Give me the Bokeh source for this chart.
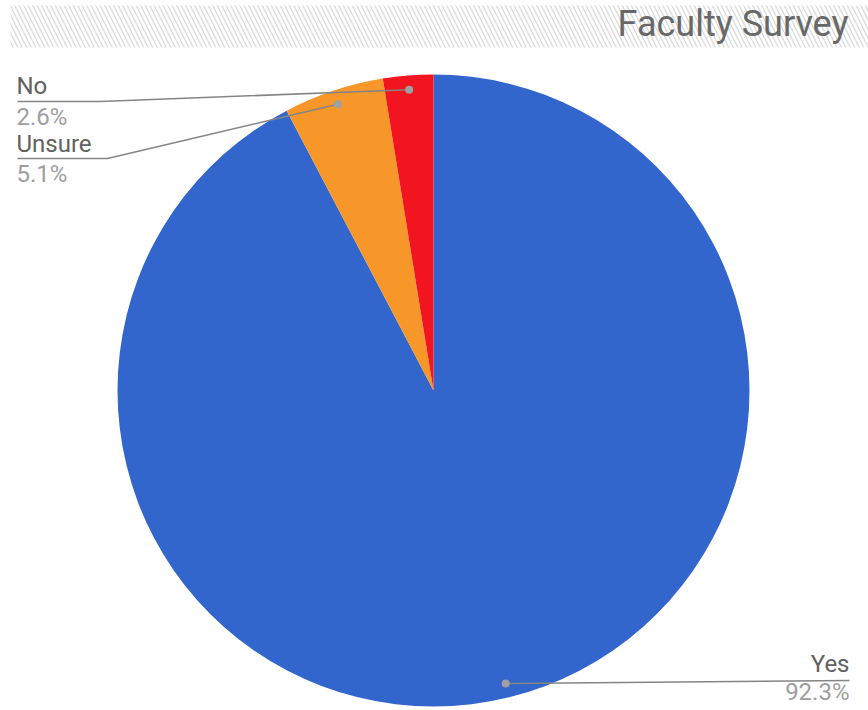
import math
from bokeh.plotting import figure
from bokeh.models import Range1d
from bokeh.core.properties import value
from bokeh.embed import file_html
from bokeh.resources import INLINE

# ---- data ----
title_text = "Faculty Survey"
labels = ["Yes", "Unsure", "No"]
counts = [36, 2, 1]
colors = ["#3366CC", "#F7972A", "#F2141E"]

# ---- layout (screen coords -> data: x = sx, y = 710 - sy) ----
W, H = 868, 710
def Y(sy):
    return H - sy

BASE_FIX = 0.36  # empirical baseline correction (fraction of font size)
def TY(sy, fs):
    return Y(sy) + BASE_FIX * fs

p = figure(width=W, height=H, output_backend="svg", toolbar_location=None,
           x_range=Range1d(0, W), y_range=Range1d(0, H),
           min_border=0, outline_line_color=None, background_fill_color="white")
p.axis.visible = False
p.grid.visible = False

# hatched title band
p.quad(left=10, right=W, bottom=Y(47), top=Y(5), fill_color="white",
       line_color=None, hatch_pattern="\\", hatch_color="#dcdcdc",
       hatch_scale=9, hatch_weight=1.4)

TFS = 36
p.text(x=[848], y=[TY(36, TFS)], text=[title_text], text_align="right",
       text_baseline="alphabetic", text_font=value("Roboto"),
       text_font_size=f"{TFS}px", text_color="#686868")

# pie
cx, cy, R = 433, Y(390), 316
total = sum(counts)
starts, ends, mids, pcts = [], [], [], []
cum = 0
for c in counts:
    a0 = math.pi / 2 - 2 * math.pi * cum / total
    cum += c
    a1 = math.pi / 2 - 2 * math.pi * cum / total
    starts.append(a0)
    ends.append(a1)
    mids.append((a0 + a1) / 2)
    pcts.append(f"{100 * c / total:.1f}%")

p.wedge(x=[cx] * len(counts), y=[cy] * len(counts), radius=R,
        start_angle=starts, end_angle=ends, direction="clock",
        fill_color=colors, line_color=None)

dot_r = 0.955 * R
dots_x = [cx + dot_r * math.cos(m) for m in mids]
dots_y = [cy + dot_r * math.sin(m) for m in mids]

# label layout: (text x, name baseline, line y, pct baseline, elbow x, align)
layout = {
    "Yes": (849, 672, 680, 700, None, "right"),
    "Unsure": (16, 152, 158, 182, 107, "left"),
    "No": (16, 94, 101, 125, 100, "left"),
}

LFS = 24
line_col = "#858585"
for i, lab in enumerate(labels):
    tx, nb, ly, pb, ex, al = layout[lab]
    lx_end = tx if al == "right" else tx + 1
    if ex is None:
        xs = [dots_x[i], lx_end]
        ys = [dots_y[i], Y(ly)]
    else:
        xs = [dots_x[i], ex, lx_end]
        ys = [dots_y[i], Y(ly), Y(ly)]
    p.line(xs, ys, line_color=line_col, line_width=1.6)
    p.text(x=[tx], y=[TY(nb, LFS)], text=[lab], text_align=al,
           text_baseline="alphabetic", text_font=value("Roboto"),
           text_font_size=f"{LFS}px", text_color="#616161")
    p.text(x=[tx], y=[TY(pb, LFS)], text=[pcts[i]], text_align=al,
           text_baseline="alphabetic", text_font=value("Roboto"),
           text_font_size=f"{LFS}px", text_color="#9e9e9e")

p.scatter(dots_x, dots_y, size=8, fill_color="#a0a0a0", line_color=None)

open("out.html", "w").write(file_html(p, INLINE))
